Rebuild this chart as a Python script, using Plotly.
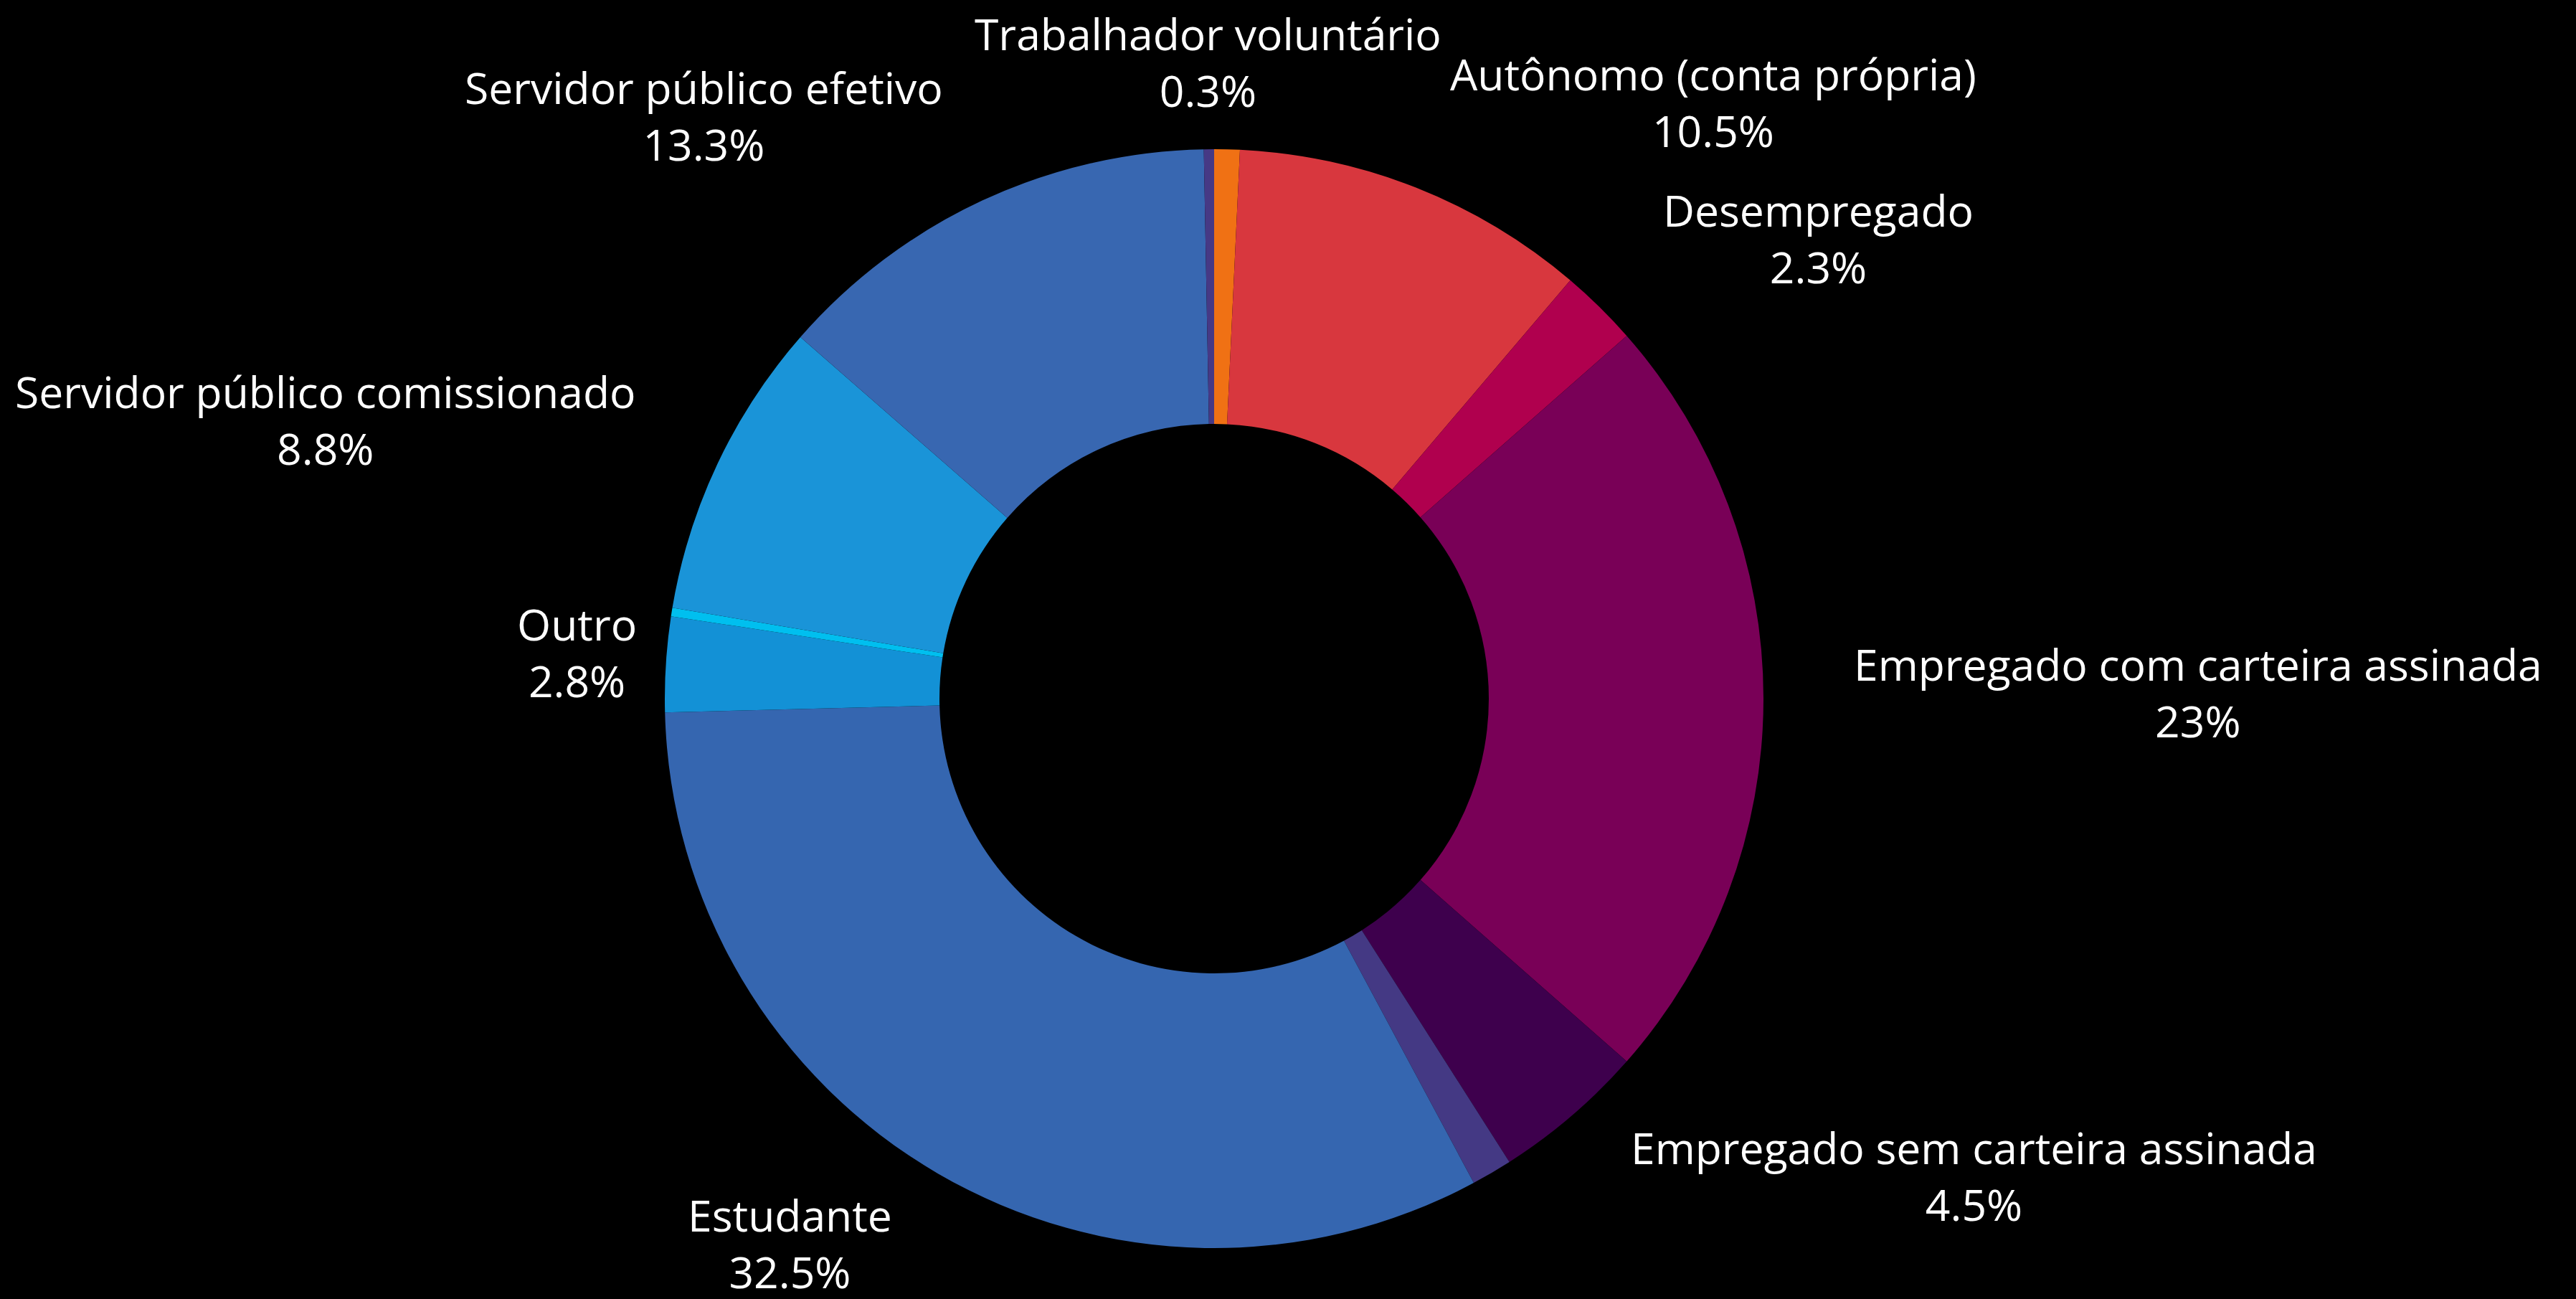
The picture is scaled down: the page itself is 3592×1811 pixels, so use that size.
import math
import plotly.graph_objects as go

# Occupation categories, in clockwise order from 12 o'clock
categories = [
    "Aposentado",
    "Autônomo (conta própria)",
    "Desempregado",
    "Empregado com carteira assinada",
    "Empregado sem carteira assinada",
    "Empresário",
    "Estudante",
    "Outro",
    "Prefiro não informar",
    "Servidor público comissionado",
    "Servidor público efetivo",
    "Trabalhador voluntário",
]

# Share of respondents (%)
shares = [0.75, 10.5, 2.3, 23, 4.5, 1.2, 32.5, 2.8, 0.25, 8.8, 13.3, 0.3]

# Categories whose label is printed around the ring
labelled = [False, True, True, True, True, False, True, True, False, True, True, True]

slice_colors = [
    "#F07114",  # Aposentado
    "#D8373E",  # Autônomo
    "#B0004E",  # Desempregado
    "#790057",  # Empregado com carteira
    "#3E004D",  # Empregado sem carteira
    "#443984",  # Empresário
    "#3566B0",  # Estudante
    "#1391D6",  # Outro
    "#00BFEF",  # Prefiro não informar
    "#1A94D8",  # Servidor comissionado
    "#3867B1",  # Servidor efetivo
    "#463985",  # Trabalhador voluntário
]

# Horizontal anchoring of each label ("auto" follows the side of the ring)
label_xanchor = ["auto"] * 7 + ["center"] + ["auto"] * 4

# Canvas and plot-area geometry (px)
WIDTH, HEIGHT = 3592, 1811
M_L, M_R, M_T, M_B = 0, 206, 208, 71
PLOT_W = WIDTH - M_L - M_R
PLOT_H = HEIGHT - M_T - M_B
RADIUS = min(PLOT_W, PLOT_H) / 2
CX = M_L + PLOT_W / 2
CY = M_T + PLOT_H / 2
FONT_SIZE = 60.6
# labels sit on an ellipse around the ring
LABEL_RX = 1.162 * RADIUS
LABEL_RY = 1.045 * RADIUS
LABEL_CY = CY - 9
LABEL_BOX_H = 2 * 1.3 * FONT_SIZE

fig = go.Figure(
    go.Pie(
        labels=categories,
        values=shares,
        hole=0.5,
        sort=False,
        direction="clockwise",
        rotation=0,
        marker=dict(colors=slice_colors, line=dict(width=0)),
        textinfo="none",
        hovertemplate="%{label}: %{value}%<extra></extra>",
    )
)

# Outside labels at each slice's mid-angle
total = sum(shares)
cumulative = 0.0
annotations = []
for name, share, show, xa in zip(categories, shares, labelled, label_xanchor):
    mid = (cumulative + share / 2) / total
    cumulative += share
    if not show:
        continue
    theta = 2 * math.pi * mid
    s, c = math.sin(theta), math.cos(theta)
    px = CX + LABEL_RX * s
    # vertical: the label box slides from centred (equator) to fully above/below (poles)
    lift = max(-1.0, min(1.0, c / 0.9))
    py = LABEL_CY - LABEL_RY * c - lift * LABEL_BOX_H / 2
    if xa == "auto":
        xa = "left" if s > 0.17 else ("right" if s < -0.17 else "center")
    annotations.append(
        dict(
            x=(px - M_L) / PLOT_W,
            y=1 - (py - M_T) / PLOT_H,
            xref="paper",
            yref="paper",
            text=f"{name}<br>{share:g}%",
            showarrow=False,
            xanchor=xa,
            yanchor="middle",
            align="center",
            font=dict(family="Open Sans", size=FONT_SIZE, color="white"),
        )
    )

fig.update_layout(
    width=WIDTH,
    height=HEIGHT,
    paper_bgcolor="black",
    plot_bgcolor="black",
    showlegend=False,
    font=dict(family="Open Sans", color="white", size=FONT_SIZE),
    margin=dict(l=M_L, r=M_R, t=M_T, b=M_B),
    annotations=annotations,
)

fig.write_html("out.html")
